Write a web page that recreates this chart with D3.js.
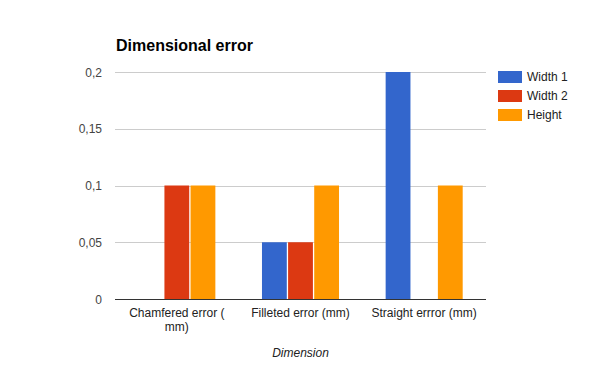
<!DOCTYPE html>
<html><head><meta charset="utf-8">
<script src="https://cdn.jsdelivr.net/npm/d3@7"></script>
<style>body{margin:0;background:#fff}svg{display:block;font-family:Arial,"Liberation Sans",sans-serif}</style>
</head><body><svg id="c" width="600" height="371"></svg>
<script>
const categories = ["Chamfered error (mm)", "Filleted error (mm)", "Straight errror (mm)"];
const seriesNames = ["Width 1", "Width 2", "Height"];
const width1 = [0, 0.05, 0.2];
const width2 = [0.1, 0.05, 0];
const height = [0.1, 0.1, 0.1];
const colors = ["#3366cc", "#dc3912", "#ff9900"];
const yTicks = [0, 0.05, 0.1, 0.15, 0.2];
const yTickLabels = ["0", "0,05", "0,1", "0,15", "0,2"];
const title = "Dimensional error";
const xTitle = "Dimension";

const series = [width1, width2, height];
const svg = d3.select("#c");
const L = 115, R = 486, T = 72, B = 299;

const y = d3.scaleLinear().domain([0, 0.2]).range([B, T]);
const x0 = d3.scaleBand().domain(categories).range([L, R]).paddingInner(0.377).paddingOuter(0.1885);
const x1 = d3.scaleBand().domain(seriesNames).range([0, x0.bandwidth()]).paddingInner(0.05);

// gridlines
svg.append("g").selectAll("line").data(yTicks.filter(d => d !== 0)).join("line")
  .attr("x1", L).attr("x2", R).attr("y1", d => Math.round(y(d)) + 0.5).attr("y2", d => Math.round(y(d)) + 0.5)
  .attr("stroke", "#cccccc");

// y labels
const yAxis = d3.axisLeft(y).tickValues(yTicks).tickFormat((d, i) => yTickLabels[i]).tickSize(0).tickPadding(0);
const ya = svg.append("g").attr("transform", `translate(${102},0)`).call(yAxis);
ya.select(".domain").remove();
ya.selectAll("text").attr("font-size", 12).attr("fill", "#444").attr("font-family", "Arial, 'Liberation Sans', sans-serif").attr("dy", "0.35em");

// bars
const g = svg.append("g");
categories.forEach((c, ci) => {
  series.forEach((s, si) => {
    const v = s[ci];
    if (v <= 0) return;
    g.append("rect")
      .attr("x", x0(c) + x1(seriesNames[si]))
      .attr("width", x1.bandwidth())
      .attr("y", y(v))
      .attr("height", y(0) - y(v))
      .attr("fill", colors[si]);
  });
});

// baseline
svg.append("line").attr("x1", L).attr("x2", R).attr("y1", B + 0.5).attr("y2", B + 0.5).attr("stroke", "#333").attr("stroke-width", 1);

// x labels with wrapping
const xAxis = d3.axisBottom(x0).tickSize(0).tickPadding(0);
const xa = svg.append("g").attr("transform", `translate(0,${B})`).call(xAxis);
xa.select(".domain").remove();
xa.selectAll("text").attr("font-size", 12).attr("fill", "#222").attr("font-family", "Arial, 'Liberation Sans', sans-serif")
  .attr("y", 0).attr("dy", null)
  .each(function(d) {
    const t = d3.select(this);
    const tokens = d.match(/[^ (]*\(|[^ (]+ ?|\S+/g) || [d];
    t.text(null);
    const maxW = 110;
    let lines = [], cur = "";
    const meas = t.append("tspan");
    tokens.forEach(tok => {
      const test = cur + tok;
      meas.text(test.trimEnd());
      if (meas.node().getComputedTextLength() > maxW && cur) { lines.push(cur.trimEnd()); cur = tok; }
      else cur = test;
    });
    lines.push(cur.trimEnd());
    meas.remove();
    lines.forEach((ln, i) => t.append("tspan").attr("x", 0).attr("y", 17.5 + i * 14.5).text(ln));
  });

// title
svg.append("text").attr("x", 116).attr("y", 51).attr("font-size", 16).attr("font-weight", "bold").attr("fill", "#000").text(title);
// x axis title
svg.append("text").attr("x", (L + R) / 2).attr("y", 357).attr("text-anchor", "middle").attr("font-size", 12)
  .attr("font-style", "italic").attr("fill", "#222").text(xTitle);

// legend
const lg = svg.append("g");
seriesNames.forEach((n, i) => {
  lg.append("rect").attr("x", 498).attr("y", 71 + i * 19).attr("width", 24).attr("height", 12).attr("fill", colors[i]);
  lg.append("text").attr("x", 527).attr("y", 77 + i * 19).attr("dy", "0.35em").attr("font-size", 12).attr("fill", "#222").text(n);
});
</script></body></html>
